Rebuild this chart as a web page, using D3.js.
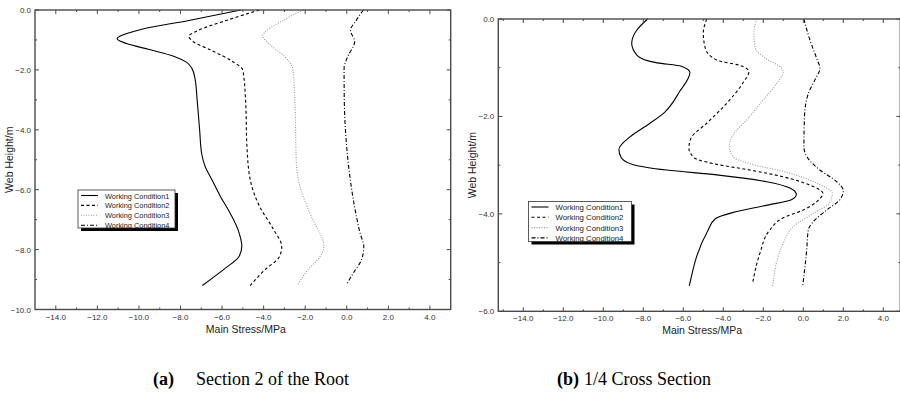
<!DOCTYPE html>
<html>
<head>
<meta charset="utf-8">
<script src="https://cdn.jsdelivr.net/npm/d3@7"></script>
<style>
  body { margin: 0; background: #fff; }
  svg { display: block; }
</style>
</head>
<body>
<div id="chart"></div>
<script>
// ---- data: [stress MPa, web height m] ----
const legendLabels = ["Working Condition1", "Working Condition2", "Working Condition3", "Working Condition4"];
const xTicksA = [-14, -12, -10, -8, -6, -4, -2, 0, 2, 4];
const yTicksA = [0, -2, -4, -6, -8, -10];
const yTicksB = [0, -2, -4, -6];

// (a) Section 2 of the Root
const rootWC1 = [[-5.1,0],[-7.6,-0.35],[-9.9,-0.65],[-10.9,-0.87],[-11.05,-0.96],[-10.6,-1.12],[-9.5,-1.32],[-8.3,-1.55],[-7.7,-1.75],[-7.45,-1.95],[-7.3,-2.3],[-7.2,-3.0],[-7.08,-4.0],[-6.98,-4.8],[-6.8,-5.25],[-6.5,-5.65],[-6.1,-6.2],[-5.6,-6.8],[-5.2,-7.4],[-5.05,-7.9],[-5.2,-8.25],[-5.9,-8.65],[-6.95,-9.2]];
const rootWC2 = [[-4.2,0],[-5.8,-0.35],[-7.2,-0.7],[-7.6,-0.88],[-7.4,-1.05],[-6.5,-1.35],[-5.5,-1.72],[-5.0,-2.0],[-4.87,-3.0],[-4.8,-4.6],[-4.65,-5.65],[-4.2,-6.55],[-3.55,-7.3],[-3.13,-7.9],[-3.25,-8.25],[-3.9,-8.65],[-4.65,-9.2]];
const rootWC3 = [[-2.1,0],[-3.2,-0.4],[-3.95,-0.75],[-4.05,-0.85],[-3.7,-1.15],[-3.0,-1.55],[-2.6,-1.95],[-2.5,-3.0],[-2.42,-5.2],[-2.25,-5.9],[-1.7,-6.9],[-1.1,-7.9],[-1.3,-8.25],[-1.9,-8.7],[-2.38,-9.2]];
const rootWC4 = [[0.8,0],[0.45,-0.35],[0.18,-0.68],[0.38,-1.05],[0.05,-1.55],[-0.13,-1.95],[-0.12,-3.0],[0.0,-4.6],[0.32,-6.35],[0.64,-7.45],[0.82,-7.9],[0.7,-8.35],[0.3,-8.8],[0.0,-9.15]];

// (b) 1/4 Cross Section
const quarterWC1 = [[-7.78,0],[-8.33,-0.23],[-8.58,-0.5],[-8.3,-0.75],[-7.3,-0.9],[-6.1,-0.97],[-5.67,-1.1],[-6.2,-1.5],[-6.95,-1.92],[-7.7,-2.15],[-8.67,-2.42],[-9.22,-2.68],[-9.1,-2.85],[-8.5,-2.99],[-6.83,-3.1],[-4.33,-3.2],[-1.83,-3.34],[-0.67,-3.47],[-0.35,-3.6],[-0.6,-3.71],[-1.8,-3.82],[-3.5,-3.97],[-4.4,-4.1],[-4.78,-4.35],[-5.7,-5.48]];
const quarterWC2 = [[-4.83,0],[-5.0,-0.29],[-4.9,-0.6],[-4.3,-0.85],[-3.2,-0.95],[-2.72,-1.08],[-3.0,-1.3],[-3.85,-1.74],[-4.83,-2.14],[-5.62,-2.45],[-5.72,-2.65],[-5.45,-2.85],[-4.5,-2.97],[-2.67,-3.1],[-1.0,-3.24],[0.33,-3.41],[0.98,-3.58],[0.8,-3.7],[0.0,-3.92],[-1.0,-4.08],[-1.67,-4.33],[-2.17,-4.81],[-2.53,-5.41]];
const quarterWC3 = [[-2.33,0],[-2.47,-0.29],[-2.4,-0.6],[-1.83,-0.82],[-1.17,-0.98],[-1.0,-1.08],[-1.33,-1.32],[-2.0,-1.66],[-2.83,-2.07],[-3.5,-2.37],[-3.7,-2.62],[-3.5,-2.83],[-2.67,-2.97],[-1.0,-3.13],[0.67,-3.37],[1.45,-3.58],[1.3,-3.78],[0.5,-3.99],[-0.5,-4.26],[-1.0,-4.6],[-1.53,-5.48]];
const quarterWC4 = [[0.03,0],[0.33,-0.43],[0.67,-0.81],[0.83,-1.01],[0.58,-1.25],[0.25,-1.53],[0.06,-2.0],[0.03,-2.62],[0.17,-2.82],[0.83,-3.1],[1.67,-3.34],[2.0,-3.52],[1.83,-3.71],[1.17,-3.92],[0.5,-4.16],[0.25,-4.33],[0.17,-4.74],[-0.03,-5.48]];

const width = 900, height = 398;
const svg = d3.select("#chart").append("svg")
  .attr("width", width)
  .attr("height", height)
  .style("font-family", "Arial, 'Liberation Sans', sans-serif");

const styles = [
  { color: "#000", dash: null, w: 1.1 },
  { color: "#000", dash: "3,2.5", w: 1.1 },
  { color: "#999", dash: "1,1.5", w: 1.1 },
  { color: "#000", dash: "4,2,1,2", w: 1.1 }
];

function drawPanel(opt) {
  const x = d3.scaleLinear().domain(opt.xDomain).range(opt.xRange);
  const y = d3.scaleLinear().domain(opt.yDomain).range(opt.yRange);
  const [x0, x1] = opt.xRange;
  const [y0, y1] = opt.yRange; // y0 top, y1 bottom
  const g = svg.append("g");
  const axisColor = "#4a4a4a";

  // curves
  const line = d3.line()
    .x(d => x(d[0]))
    .y(d => y(d[1]))
    .curve(d3.curveMonotoneY);
  opt.series.forEach((s, i) => {
    g.append("path")
      .datum(s)
      .attr("fill", "none")
      .attr("stroke", styles[i].color)
      .attr("stroke-width", styles[i].w)
      .attr("stroke-dasharray", styles[i].dash)
      .attr("d", line);
  });

  // frame
  g.append("rect")
    .attr("x", x0).attr("y", y0)
    .attr("width", x1 - x0).attr("height", y1 - y0)
    .attr("fill", "none")
    .attr("stroke", axisColor)
    .attr("stroke-width", 1.4);

  // x ticks (major + minor), inward, mirrored on top
  const xMinor = opt.xTicks.slice(0, -1).map(v => v + 1).concat([opt.xTicks[0] - 1, opt.xTicks[opt.xTicks.length - 1] + 1])
    .filter(v => x(v) > x0 + 1 && x(v) < x1 - 1);
  const xt = g.append("g").attr("stroke", axisColor).attr("stroke-width", 1);
  opt.xTicks.forEach(v => {
    xt.append("line").attr("x1", x(v)).attr("x2", x(v)).attr("y1", y1).attr("y2", y1 - 4);
    xt.append("line").attr("x1", x(v)).attr("x2", x(v)).attr("y1", y0).attr("y2", y0 + 4);
  });
  xMinor.forEach(v => {
    xt.append("line").attr("x1", x(v)).attr("x2", x(v)).attr("y1", y1).attr("y2", y1 - 2);
    xt.append("line").attr("x1", x(v)).attr("x2", x(v)).attr("y1", y0).attr("y2", y0 + 2);
  });
  g.selectAll(".xl").data(opt.xTicks).enter().append("text")
    .attr("x", d => x(d))
    .attr("y", y1 + 10)
    .attr("text-anchor", "middle")
    .attr("font-size", 8)
    .attr("fill", "#333")
    .text(d => d3.format(".1f")(d));

  // y ticks
  const yMinor = opt.yTicks.slice(0, -1).map(v => v - 1);
  const yt = g.append("g").attr("stroke", axisColor).attr("stroke-width", 1);
  opt.yTicks.forEach(v => {
    yt.append("line").attr("x1", x0).attr("x2", x0 + 4).attr("y1", y(v)).attr("y2", y(v));
    yt.append("line").attr("x1", x1).attr("x2", x1 - 4).attr("y1", y(v)).attr("y2", y(v));
  });
  yMinor.forEach(v => {
    yt.append("line").attr("x1", x0).attr("x2", x0 + 2).attr("y1", y(v)).attr("y2", y(v));
    yt.append("line").attr("x1", x1).attr("x2", x1 - 2).attr("y1", y(v)).attr("y2", y(v));
  });
  g.selectAll(".yl").data(opt.yTicks).enter().append("text")
    .attr("x", x0 - 4)
    .attr("y", d => y(d) + 3)
    .attr("text-anchor", "end")
    .attr("font-size", 8)
    .attr("fill", "#333")
    .text(d => d3.format(".1f")(d));

  // axis titles
  g.append("text")
    .attr("x", (x0 + Math.min(x1, 900)) / 2 + 3)
    .attr("y", y1 + 23)
    .attr("text-anchor", "middle")
    .attr("font-size", 10.5)
    .attr("fill", "#222")
    .text("Main Stress/MPa");
  g.append("text")
    .attr("transform", `translate(${x0 - 22},${(y0 + y1) / 2}) rotate(-90)`)
    .attr("text-anchor", "middle")
    .attr("font-size", 10.5)
    .attr("fill", "#222")
    .text("Web Height/m");

  // legend
  const L = opt.legend;
  const lg = g.append("g");
  lg.append("rect")
    .attr("x", L.x + 3).attr("y", L.y + 3)
    .attr("width", L.w).attr("height", L.h)
    .attr("fill", "#000");
  lg.append("rect")
    .attr("x", L.x).attr("y", L.y)
    .attr("width", L.w).attr("height", L.h)
    .attr("fill", "#fff")
    .attr("stroke", "#333")
    .attr("stroke-width", 0.8);
  legendLabels.forEach((name, i) => {
    const cy = L.y + 5.5 + i * L.step;
    lg.append("line")
      .attr("x1", L.x + 3).attr("x2", L.x + 20)
      .attr("y1", cy).attr("y2", cy)
      .attr("stroke", styles[i].color)
      .attr("stroke-width", styles[i].w)
      .attr("stroke-dasharray", styles[i].dash);
    lg.append("text")
      .attr("x", L.x + 27)
      .attr("y", cy + 3)
      .attr("font-size", L.fs)
      .attr("fill", "#222")
      .text(name);
  });

  // caption
  const cap = svg.append("text")
    .attr("x", opt.caption.x)
    .attr("y", 385)
    .attr("font-family", "'Liberation Serif', 'Times New Roman', serif")
    .attr("font-size", 18)
    .attr("fill", "#000");
  cap.append("tspan").attr("font-weight", "bold").text(opt.caption.tag);
  cap.append("tspan").attr("dx", opt.caption.gap).text(opt.caption.text);
}

drawPanel({
  xDomain: [-15, 5], xRange: [35, 450.7],
  yDomain: [0, -10], yRange: [10, 309.5],
  xTicks: xTicksA, yTicks: yTicksA,
  series: [rootWC1, rootWC2, rootWC3, rootWC4],
  legend: { x: 78, y: 190, w: 97, h: 38, step: 9.9, fs: 7.4 },
  caption: { x: 153, tag: "(a)", gap: 22, text: "Section 2 of the Root" }
});

drawPanel({
  xDomain: [-15.25, 4.85], xRange: [498.3, 900.3],
  yDomain: [0, -6], yRange: [19, 311.3],
  xTicks: xTicksA, yTicks: yTicksB,
  series: [quarterWC1, quarterWC2, quarterWC3, quarterWC4],
  legend: { x: 528.5, y: 201.5, w: 103, h: 40, step: 10.3, fs: 7.8 },
  caption: { x: 557, tag: "(b)", gap: 5, text: "1/4 Cross Section" }
});
</script>
</body>
</html>
